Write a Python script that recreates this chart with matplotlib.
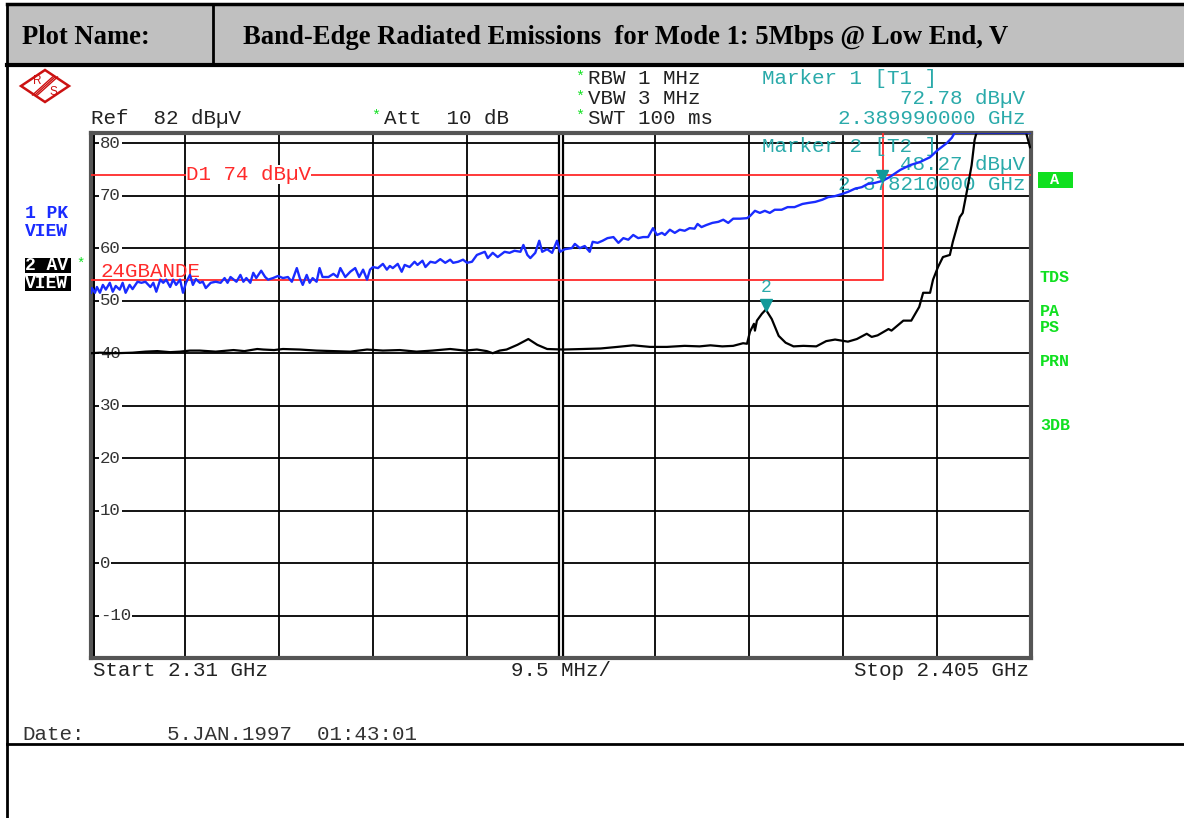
import matplotlib
matplotlib.use("Agg")
import matplotlib.pyplot as plt
import matplotlib.transforms as mtransforms
from matplotlib.patches import Rectangle, Polygon
import numpy as np

# sweep / display settings
start_ghz = 2.31
stop_ghz = 2.405
ref_level = 82
n_div = 10
ytick_vals = [80, 70, 60, 50, 40, 30, 20, 10, 0, -10]
display_line = 74          # D1
limit_level = 54           # 24GBANDE
limit_edge_ghz = 2.39
marker1 = (2.38999, 72.78)
marker2 = (2.37821, 48.27)

# trace 1: peak (MHz, dBuV)
pk_mhz = [2310.0, 2310.1, 2310.4, 2310.6, 2310.9, 2311.2, 2311.5, 2311.9, 2312.2, 2312.5,
          2312.9, 2313.2, 2313.5, 2313.9, 2314.2, 2314.7, 2315.1, 2315.5, 2316.0, 2316.3,
          2316.6, 2317.0, 2317.3, 2317.6, 2318.0, 2318.3, 2318.6, 2319.0, 2319.3, 2319.6,
          2320.0, 2320.3, 2320.6, 2321.0, 2321.3, 2321.6, 2322.1, 2322.6, 2323.1, 2323.5,
          2323.8, 2324.1, 2324.7, 2325.1, 2325.4, 2325.7, 2326.1, 2326.4, 2326.7, 2327.2,
          2327.6, 2327.9, 2328.4, 2328.9, 2329.4, 2329.9, 2330.3, 2330.8, 2331.1, 2331.4,
          2331.8, 2332.1, 2332.4, 2332.8, 2333.1, 2333.4, 2334.0, 2334.5, 2334.9, 2335.2,
          2335.7, 2336.2, 2336.7, 2337.1, 2337.5, 2337.9, 2338.2, 2338.5, 2339.0, 2339.5,
          2339.9, 2340.2, 2340.5, 2341.0, 2341.4, 2341.7, 2342.2, 2342.7, 2343.0, 2343.5,
          2343.8, 2344.3, 2344.8, 2345.3, 2345.8, 2346.3, 2346.6, 2347.1, 2347.6, 2348.0,
          2348.5, 2349.0, 2349.8, 2350.1, 2350.6, 2351.1, 2351.8, 2352.3, 2352.8, 2353.4,
          2353.7, 2354.1, 2354.4, 2354.9, 2355.3, 2355.6, 2356.1, 2356.6, 2357.1, 2357.4,
          2357.9, 2358.6, 2358.9, 2359.4, 2359.9, 2360.4, 2360.7, 2361.2, 2361.7, 2362.2,
          2362.8, 2363.3, 2363.8, 2364.3, 2364.8, 2365.3, 2365.8, 2366.3, 2366.8, 2367.2,
          2367.7, 2368.0, 2368.5, 2369.0, 2369.5, 2370.0, 2370.5, 2371.0, 2371.3, 2371.7,
          2372.2, 2372.8, 2373.4, 2373.9, 2374.4, 2374.9, 2375.6, 2376.3, 2376.6, 2377.1,
          2377.6, 2378.1, 2378.6, 2379.1, 2379.8, 2380.4, 2381.1, 2381.9, 2382.5, 2383.2,
          2383.9, 2384.5, 2385.2, 2385.9, 2386.5, 2387.2, 2387.9, 2388.5, 2389.2, 2390.0,
          2390.7, 2391.8, 2392.8, 2393.8, 2394.8, 2395.6, 2396.5, 2397.0, 2397.3, 2405.0]
pk_dbuv = [51.5, 52.4, 51.5, 52.6, 51.5, 53.0, 52.1, 53.4, 51.7, 52.8,
           52.1, 53.4, 51.5, 53.0, 52.2, 53.6, 53.4, 53.6, 52.6, 53.4,
           51.7, 54.0, 53.4, 54.0, 52.6, 54.0, 53.0, 54.0, 51.5, 53.4,
           54.9, 53.0, 54.1, 53.4, 53.6, 52.4, 53.4, 53.6, 53.4, 54.3,
           53.4, 54.5, 53.6, 54.9, 53.6, 54.3, 53.4, 55.3, 54.3, 55.7,
           54.5, 54.0, 54.3, 54.7, 54.3, 54.5, 53.6, 56.2, 54.3, 53.0,
           54.9, 53.4, 54.3, 53.6, 56.2, 54.5, 54.5, 55.1, 54.5, 56.2,
           54.5, 55.5, 56.2, 54.5, 55.9, 54.0, 55.9, 56.4, 56.2, 57.0,
           55.9, 56.6, 56.2, 57.0, 55.5, 56.8, 56.4, 57.4, 56.8, 57.6,
           56.4, 57.4, 57.2, 57.9, 57.2, 57.8, 57.2, 57.4, 57.8, 57.2,
           57.4, 58.7, 59.3, 58.1, 59.1, 58.3, 59.3, 59.1, 59.5, 59.3,
           60.6, 58.7, 58.1, 59.1, 61.4, 59.3, 59.8, 59.1, 61.4, 59.3,
           59.8, 60.0, 60.8, 60.0, 60.4, 59.3, 61.2, 61.0, 61.4, 61.9,
           62.1, 61.0, 61.9, 61.6, 62.5, 61.9, 62.1, 62.1, 63.8, 62.5,
           62.9, 62.5, 63.5, 62.9, 63.5, 63.3, 63.8, 63.7, 64.6, 64.0,
           64.4, 64.8, 65.0, 65.4, 64.8, 65.6, 65.6, 65.7, 66.1, 67.1,
           66.7, 67.1, 66.7, 67.3, 67.3, 67.8, 67.8, 68.4, 68.6, 68.8,
           69.2, 69.7, 69.9, 70.3, 70.7, 71.3, 71.6, 72.2, 72.4, 72.8,
           73.5, 74.9, 75.8, 76.4, 77.3, 78.7, 80.0, 81.0, 82.0, 82.0]

# trace 2: average (MHz, dBuV)
av_mhz = [2310.0, 2310.9, 2312.5, 2314.2, 2315.5, 2316.7, 2318.0, 2319.0, 2320.0, 2321.0,
          2322.6, 2324.4, 2325.5, 2326.8, 2327.4, 2328.5, 2329.4, 2331.1, 2332.8, 2334.5,
          2336.2, 2337.9, 2339.5, 2341.2, 2342.9, 2344.5, 2346.3, 2347.8, 2349.0, 2350.0,
          2350.6, 2351.3, 2352.0, 2353.1, 2354.2, 2355.1, 2356.1, 2357.7, 2359.7, 2361.5,
          2363.2, 2364.8, 2366.5, 2368.2, 2370.0, 2371.5, 2372.6, 2373.8, 2374.9, 2375.9,
          2376.3, 2376.6, 2377.0, 2377.1, 2377.3, 2377.8, 2378.2, 2378.8, 2379.5, 2380.2,
          2381.0, 2382.0, 2383.3, 2384.3, 2385.2, 2386.5, 2387.4, 2388.4, 2388.9, 2389.5,
          2390.6, 2390.9, 2392.1, 2392.9, 2393.7, 2394.1, 2394.8, 2395.1, 2395.6, 2396.1,
          2396.8, 2397.1, 2397.8, 2398.1, 2398.6, 2399.0, 2399.3, 2399.5, 2404.5, 2404.9]
av_dbuv = [40.0, 40.1, 40.0, 40.1, 40.3, 40.4, 40.2, 40.3, 40.5, 40.5,
           40.3, 40.6, 40.4, 40.8, 40.7, 40.6, 40.8, 40.7, 40.5, 40.4,
           40.3, 40.7, 40.5, 40.6, 40.3, 40.5, 40.8, 40.5, 40.7, 40.4,
           40.0, 40.5, 40.7, 41.6, 42.7, 41.6, 40.8, 40.7, 40.8, 40.9,
           41.2, 41.5, 41.2, 41.2, 41.4, 41.3, 41.5, 41.3, 41.4, 41.9,
           41.8, 44.1, 45.6, 44.3, 46.2, 47.5, 48.3, 46.5, 43.3, 42.0,
           41.3, 41.4, 41.3, 42.3, 42.6, 42.2, 42.7, 43.7, 43.1, 43.4,
           44.6, 44.3, 46.2, 46.2, 48.8, 51.5, 51.5, 54.0, 56.4, 58.3,
           58.7, 61.2, 65.9, 66.7, 71.6, 75.8, 80.6, 82.0, 82.0, 79.2]

BLUE = "#1a2cff"
RED = "#ff2a2a"
TEAL = "#2aaaaa"
GREEN = "#10e020"
MONO = "Liberation Mono"
FS = 15

fig = plt.figure(figsize=(11.84, 8.18), dpi=100)

# page frame in pixel units
fr = fig.add_axes([0, 0, 1, 1])
fr.set_xlim(0, 1184)
fr.set_ylim(818, 0)
fr.axis("off")
fr.add_patch(Rectangle((7, 4), 1177, 61, facecolor="#c0c0c0", edgecolor="none"))
fr.plot([7, 1184], [4, 4], color="black", lw=2.5)
fr.plot([7, 1184], [65, 65], color="black", lw=3)
fr.plot([7, 7], [4, 818], color="black", lw=2)
fr.plot([213, 213], [4, 65], color="black", lw=2)
fr.plot([7, 1184], [744, 744], color="black", lw=2)
fr.text(22, 37, "Plot Name:", family="Liberation Serif", weight="bold", fontsize=19.2, va="center")
fr.text(243, 37, "Band-Edge Radiated Emissions  for Mode 1: 5Mbps @ Low End, V",
        family="Liberation Serif", weight="bold", fontsize=19.2, va="center")

# R&S logo
fr.add_patch(Polygon([(21, 86), (45, 70), (69, 86), (45, 102)], closed=True,
                     facecolor="white", edgecolor="#cc1111", lw=1.8))
for d in (-2.5, 0, 2.5):
    fr.plot([35 + d, 55 + d], [95, 77], color="#cc1111", lw=1)
fr.text(37, 81, "R", color="#cc1111", fontsize=8.5, family="Liberation Sans", ha="center", va="center")
fr.text(53, 92, "S", color="#cc1111", fontsize=8.5, family="Liberation Sans", ha="center", va="center")

# instrument header text
def mono(x, y, s, color="#222222", ha="left", size=FS, **kw):
    fr.text(x, y, s, family=MONO, fontsize=size, color=color, ha=ha, va="center", **kw)

mono(91, 118, "Ref  82 dB\u00b5V")
mono(371, 116, "*", color=GREEN, size=11)
mono(384, 118, "Att  10 dB")
for yy, s in ((79, "RBW 1 MHz"), (99, "VBW 3 MHz"), (118, "SWT 100 ms")):
    mono(575, yy - 2, "*", color=GREEN, size=11)
    mono(588, yy, s)
mono(762, 79, "Marker 1 [T1 ]", color=TEAL)
mono(1025, 99, "72.78 dB\u00b5V", color=TEAL, ha="right")
mono(1025, 118, "2.389990000 GHz", color=TEAL, ha="right")

# left trace labels
mono(25, 213, "1 PK", color=BLUE, size=13, weight="bold")
mono(25, 231, "VIEW", color=BLUE, size=13, weight="bold")
fr.add_patch(Rectangle((25, 258), 46, 15, facecolor="black"))
fr.add_patch(Rectangle((25, 276), 46, 15, facecolor="black"))
mono(25, 265, "2 AV", color="white", size=13, weight="bold")
mono(25, 283, "VIEW", color="white", size=13, weight="bold")
mono(76, 264, "*", color=GREEN, size=10)

# right status labels
fr.add_patch(Rectangle((1038, 172), 35, 16, facecolor=GREEN))
mono(1055, 180, "A", color="white", size=11, weight="bold", ha="center")
for yy, s in ((278, "TDS"), (311, "PA"), (327, "PS"), (362, "PRN"), (426, "3DB")):
    mono(1040, yy, s, color=GREEN, size=12, weight="bold")

# footer text
mono(93, 671, "Start 2.31 GHz")
mono(561, 671, "9.5 MHz/", ha="center")
mono(1029, 671, "Stop 2.405 GHz", ha="right")
mono(22, 735, "Date:", color="#333333")
mono(167, 735, "5.JAN.1997  01:43:01", color="#333333")

# spectrum display
ax = fig.add_axes([91 / 1184, (818 - 658) / 818, 940 / 1184, 525.5 / 818])
ax.set_xlim(start_ghz, stop_ghz)
ax.set_ylim(ref_level - n_div * 10, ref_level)
xt = np.linspace(start_ghz, stop_ghz, n_div + 1)
ax.set_xticks(xt)
ax.set_yticks(ytick_vals)
ax.tick_params(length=0, labelbottom=False, labelleft=False)
ax.grid(True, color="black", lw=1.3)
ax.set_axisbelow(True)
for sp in ax.spines.values():
    sp.set_linewidth(3)
    sp.set_color("#555555")
mid = xt[n_div // 2]
ax.axvline(mid, color="black", lw=4.5, zorder=1.5)
ax.axvline(mid, color="white", lw=1.3, zorder=1.6)
ax.axvline(start_ghz, color="black", lw=5, zorder=1.5)
ax.axvline(start_ghz, color="white", lw=1.2, zorder=1.6)

ytr = mtransforms.blended_transform_factory(ax.transAxes, ax.transData)
for v in ytick_vals:
    ax.text(0.0095, v, f"{v}", transform=ytr, family=MONO, fontsize=12.5, color="#333333",
            ha="left", va="center", zorder=2.5,
            bbox=dict(facecolor="white", edgecolor="none", pad=0.6))

# display line and limit line
ax.axhline(display_line, color=RED, lw=1.3, zorder=3)
ax.text(start_ghz + 0.0096, display_line, "D1 74 dB\u00b5V", family=MONO, fontsize=FS,
        color=RED, va="center", ha="left", zorder=3.1,
        bbox=dict(facecolor="white", edgecolor="none", pad=0.3))
ax.plot([start_ghz, limit_edge_ghz, limit_edge_ghz], [limit_level, limit_level, ref_level],
        color=RED, lw=1.3, zorder=3)
ax.text(start_ghz + 0.001, limit_level + 1.6, "24GBANDE", family=MONO, fontsize=FS,
        color=RED, va="center", ha="left", zorder=3.1)

# marker 2 readout sits inside the grid
for yy, s, ha, xx in ((147, "Marker 2 [T2 ]", "left", 762), (165, "48.27 dB\u00b5V", "right", 1025),
                      (184, "2.378210000 GHz", "right", 1025)):
    ax.text(xx, yy, s, transform=fr.transData, family=MONO, fontsize=FS, color=TEAL,
            ha=ha, va="center", zorder=3.2, clip_on=False)

# traces
ax.plot(np.array(av_mhz) / 1000, av_dbuv, color="black", lw=1.6, zorder=4)
ax.plot(np.array(pk_mhz) / 1000, pk_dbuv, color=BLUE, lw=1.7, zorder=4.2)

# markers
ax.plot([marker1[0]], [marker1[1] + 0.9], marker="v", ms=9, color="#119999", zorder=5, ls="none")
ax.plot([marker2[0]], [marker2[1] + 0.9], marker="v", ms=9, color="#119999", zorder=5, ls="none")
ax.text(marker2[0], marker2[1] + 2.6, "2", family=MONO, fontsize=13, color=TEAL,
        ha="center", va="bottom", zorder=5)

fig.savefig("out.png", dpi=100)
